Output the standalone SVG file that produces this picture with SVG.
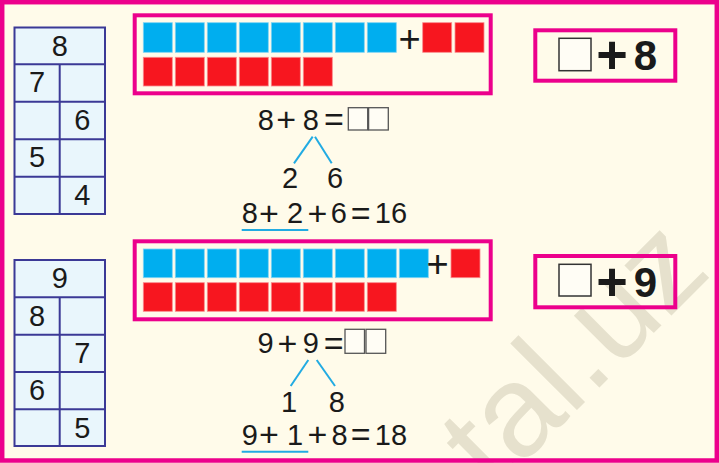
<svg xmlns="http://www.w3.org/2000/svg" width="719" height="463" viewBox="0 0 719 463">
<defs>
<style>
.bg{fill:#FFFBEA}
.frame{fill:none;stroke:#EC008C;stroke-width:4.5}
.pbox{fill:none;stroke:#EC008C;stroke-width:4}
.tbl{fill:#E9F6FC;stroke:#3B3996;stroke-width:2}
.tl{stroke:#3B3996;stroke-width:2}
.d{font-family:"Liberation Sans",Arial,sans-serif;font-size:29px;fill:#1a1a1a;text-anchor:middle}
.op{font-family:"Liberation Sans",Arial,sans-serif;font-size:34px;fill:#1a1a1a;text-anchor:middle}
.bop{font-family:"Liberation Sans",Arial,sans-serif;font-size:38px;fill:#1a1a1a;text-anchor:middle}
.big{font-family:"Liberation Sans",Arial,sans-serif;font-weight:bold;font-size:42px;fill:#1a1a1a;text-anchor:middle}
.bigp{font-family:"Liberation Sans",Arial,sans-serif;font-weight:bold;font-size:54px;fill:#1a1a1a;text-anchor:middle}
.b{fill:#00AEEF;stroke:#7FD3F5;stroke-width:0.8}
.r{fill:#F7161F;stroke:#F98A8E;stroke-width:0.8}
.ans{fill:#FFFDF5;stroke:#555;stroke-width:1.3}
.sq{fill:#FFFDF5;stroke:#333;stroke-width:1.5}
.bl{stroke:#22ABE2;stroke-width:2;fill:none}
.wm{font-family:"Liberation Sans",Arial,sans-serif;font-size:130px;fill:#E6E1CD}
</style>
</defs>
<rect class="bg" x="0" y="0" width="719" height="463"/>
<text class="wm" x="494" y="493" transform="rotate(-45 494 493)">tal.uz</text>

<g id="table1">
<rect class="tbl" x="14.5" y="27.5" width="90.5" height="186.5"/>
<line class="tl" x1="14.5" y1="64.3" x2="105" y2="64.3"/>
<line class="tl" x1="14.5" y1="101.7" x2="105" y2="101.7"/>
<line class="tl" x1="14.5" y1="139.3" x2="105" y2="139.3"/>
<line class="tl" x1="14.5" y1="176.7" x2="105" y2="176.7"/>
<line class="tl" x1="59.7" y1="64.3" x2="59.7" y2="214"/>
<text class="d" x="59.7" y="55.5">8</text>
<text class="d" x="37" y="92">7</text>
<text class="d" x="82.3" y="130">6</text>
<text class="d" x="37" y="167">5</text>
<text class="d" x="82.3" y="204.5">4</text>
</g>

<g id="table2">
<rect class="tbl" x="14.5" y="260" width="90.5" height="186"/>
<line class="tl" x1="14.5" y1="297.3" x2="105" y2="297.3"/>
<line class="tl" x1="14.5" y1="334.7" x2="105" y2="334.7"/>
<line class="tl" x1="14.5" y1="372" x2="105" y2="372"/>
<line class="tl" x1="14.5" y1="409.3" x2="105" y2="409.3"/>
<line class="tl" x1="59.7" y1="297.3" x2="59.7" y2="446"/>
<text class="d" x="59.7" y="288.3">9</text>
<text class="d" x="37" y="325.5">8</text>
<text class="d" x="82.3" y="363">7</text>
<text class="d" x="37" y="400">6</text>
<text class="d" x="82.3" y="437.5">5</text>
</g>

<g id="bars1">
<rect class="pbox" x="134.7" y="15.3" width="356" height="78"/>
<rect class="b" x="143.3" y="22.7" width="29" height="29.6"/>
<rect class="b" x="175.3" y="22.7" width="29" height="29.6"/>
<rect class="b" x="207.3" y="22.7" width="29" height="29.6"/>
<rect class="b" x="239.3" y="22.7" width="29" height="29.6"/>
<rect class="b" x="271.3" y="22.7" width="29" height="29.6"/>
<rect class="b" x="303.3" y="22.7" width="29" height="29.6"/>
<rect class="b" x="335.3" y="22.7" width="29" height="29.6"/>
<rect class="b" x="367.3" y="22.7" width="29" height="29.6"/>
<text class="bop" x="409.7" y="51.7">+</text>
<rect class="r" x="422.7" y="22.7" width="29" height="29.6"/>
<rect class="r" x="455" y="22.7" width="29" height="29.6"/>
<rect class="r" x="143.3" y="57.3" width="29" height="28.7"/>
<rect class="r" x="175.3" y="57.3" width="29" height="28.7"/>
<rect class="r" x="207.3" y="57.3" width="29" height="28.7"/>
<rect class="r" x="239.3" y="57.3" width="29" height="28.7"/>
<rect class="r" x="271.3" y="57.3" width="29" height="28.7"/>
<rect class="r" x="303.3" y="57.3" width="29" height="28.7"/>
</g>

<g id="bars2">
<rect class="pbox" x="134.7" y="241.3" width="356" height="78"/>
<rect class="b" x="143.3" y="249" width="29" height="28.7"/>
<rect class="b" x="175.3" y="249" width="29" height="28.7"/>
<rect class="b" x="207.3" y="249" width="29" height="28.7"/>
<rect class="b" x="239.3" y="249" width="29" height="28.7"/>
<rect class="b" x="271.3" y="249" width="29" height="28.7"/>
<rect class="b" x="303.3" y="249" width="29" height="28.7"/>
<rect class="b" x="335.3" y="249" width="29" height="28.7"/>
<rect class="b" x="367.3" y="249" width="29" height="28.7"/>
<rect class="b" x="399.3" y="249" width="29" height="28.7"/>
<text class="bop" x="437.5" y="277.4">+</text>
<rect class="r" x="451" y="249" width="29" height="28.7"/>
<rect class="r" x="143.3" y="282.7" width="29" height="28.6"/>
<rect class="r" x="175.3" y="282.7" width="29" height="28.6"/>
<rect class="r" x="207.3" y="282.7" width="29" height="28.6"/>
<rect class="r" x="239.3" y="282.7" width="29" height="28.6"/>
<rect class="r" x="271.3" y="282.7" width="29" height="28.6"/>
<rect class="r" x="303.3" y="282.7" width="29" height="28.6"/>
<rect class="r" x="335.3" y="282.7" width="29" height="28.6"/>
<rect class="r" x="367.3" y="282.7" width="29" height="28.6"/>
</g>

<g id="eq1">
<text class="d" x="265.8" y="130">8</text>
<text class="op" x="286.2" y="131.2">+</text>
<text class="d" x="310.8" y="130">8</text>
<text class="op" x="334" y="131.2">=</text>
<rect class="ans" x="348.3" y="107.7" width="19.4" height="22.3"/>
<rect class="ans" x="368.6" y="107.7" width="19.7" height="22.3"/>
<text class="d" x="290" y="188.3">2</text>
<text class="d" x="335" y="188.3">6</text>
<text class="d" x="249.7" y="223.3">8</text>
<text class="op" x="269" y="224.5">+</text>
<text class="d" x="295" y="223.3">2</text>
<text class="op" x="317.5" y="224.5">+</text>
<text class="d" x="338.8" y="223.3">6</text>
<text class="op" x="360.8" y="224.5">=</text>
<text class="d" x="391" y="223.3">16</text>
</g>

<g id="eq2">
<text class="d" x="265.5" y="353.3">9</text>
<text class="op" x="287.5" y="354.5">+</text>
<text class="d" x="310.8" y="353.3">9</text>
<text class="op" x="333.7" y="354.5">=</text>
<rect class="ans" x="345" y="329.3" width="19.5" height="24"/>
<rect class="ans" x="366" y="329.3" width="19.7" height="24"/>
<text class="d" x="289" y="411.7">1</text>
<text class="d" x="336.7" y="411.7">8</text>
<text class="d" x="249.7" y="445">9</text>
<text class="op" x="269" y="446.2">+</text>
<text class="d" x="295" y="445">1</text>
<text class="op" x="317.5" y="446.2">+</text>
<text class="d" x="339.5" y="445">8</text>
<text class="op" x="360.8" y="446.2">=</text>
<text class="d" x="391" y="445">18</text>
</g>

<g id="connectors">
<line class="bl" x1="312.7" y1="136.7" x2="294" y2="163.3"/>
<line class="bl" x1="315" y1="136.7" x2="331.7" y2="163.3"/>
<line class="bl" x1="241.7" y1="230" x2="308.3" y2="230"/>
<line class="bl" x1="308.3" y1="360" x2="290.7" y2="386"/>
<line class="bl" x1="316.7" y1="360" x2="335" y2="386"/>
<line class="bl" x1="241.7" y1="451.7" x2="308.3" y2="451.7"/>
</g>

<g id="box8">
<rect class="pbox" x="535.3" y="30.3" width="140" height="50.4"/>
<rect class="sq" x="559" y="38.3" width="32" height="32.4"/>
<text class="bigp" x="612" y="73.3">+</text>
<text class="big" x="645.5" y="70">8</text>
</g>

<g id="box9">
<rect class="pbox" x="535.3" y="256" width="140" height="51.3"/>
<rect class="sq" x="559" y="264.3" width="32" height="31.7"/>
<text class="bigp" x="612" y="299.8">+</text>
<text class="big" x="645.5" y="296.5">9</text>
</g>

<rect class="frame" x="2.2" y="2.2" width="714.6" height="458.3"/>
</svg>
